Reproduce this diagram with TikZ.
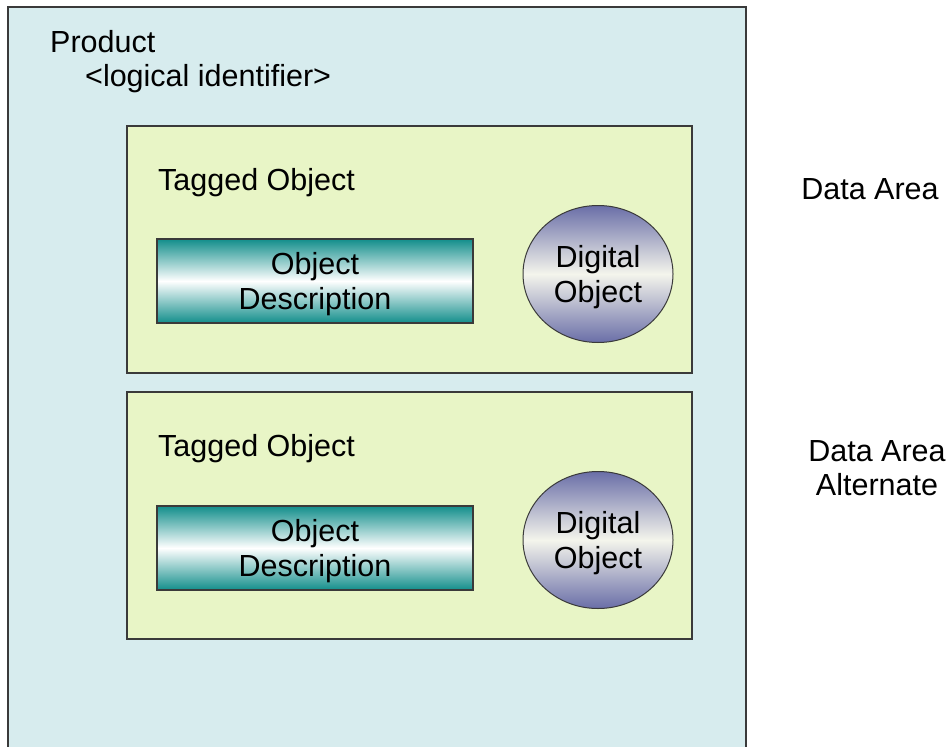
\documentclass[tikz,border=0pt]{standalone}
\usepackage{fontspec}
\setmainfont{Liberation Sans}
\definecolor{outerfill}{HTML}{D7ECEE}
\definecolor{innerfill}{HTML}{E8F5C6}
\definecolor{edge}{HTML}{3A3A3A}
\definecolor{teal1}{HTML}{128E8B}
\definecolor{slate1}{HTML}{6A6EA8}
\definecolor{pale1}{HTML}{F4F5EC}
\tikzset{
  x=1pt, y=-1pt,
  lbl/.style={font=\fontsize{30.5}{34.5}\selectfont, inner sep=0pt, align=center},
  lbll/.style={font=\fontsize{30.5}{34.5}\selectfont, inner sep=0pt, anchor=west},
  outerbox/.style={draw=edge, line width=1.2pt, fill=outerfill},
  areabox/.style={draw=edge, line width=1.2pt, fill=innerfill},
  descbox/.style={draw=edge, line width=1.2pt, top color=teal1, bottom color=teal1, middle color=white, minimum width=316pt, minimum height=84pt, inner sep=0pt},
  digobj/.style={ellipse, draw=edge, line width=1pt, top color=slate1, bottom color=slate1, middle color=pale1, minimum width=150pt, minimum height=137pt, inner sep=0pt},
  inlbl/.style={label={[lbl, yshift=-3pt]center:{#1}}}
}
\usetikzlibrary{shapes.geometric}
\begin{document}
\begin{tikzpicture}
\useasboundingbox (0,0) rectangle (949,746);
\fill[white] (0,0) rectangle (949,746);
\begin{scope}
\clip (0,0) rectangle (949,746);
\draw[outerbox] (8,7) rectangle (746,760);
\end{scope}
\node[lbll] (product) at (50,42) {Product};
\node[lbll] (logid) at (85,79) {<logical identifier>};
% Data area
\draw[areabox] (127,126) rectangle (692,373);
\node[lbll] (tag1) at (158,183) {Tagged Object};
\node[descbox, inlbl={Object\\Description}] (desc1) at (315,281) {};
\node[digobj, inlbl={Digital\\Object}] (dig1) at (598,274) {};
% Alternate
\draw[areabox] (127,392) rectangle (692,639);
\node[lbll] (tag2) at (158,449) {Tagged Object};
\node[descbox, inlbl={Object\\Description}] (desc2) at (315,548) {};
\node[digobj, inlbl={Digital\\Object}] (dig2) at (598,540) {};
% right labels
\node[lbl] (da) at (870,189) {Data Area};
\node[lbl] (daa) at (877,468) {Data Area\\Alternate};
\end{tikzpicture}
\end{document}
